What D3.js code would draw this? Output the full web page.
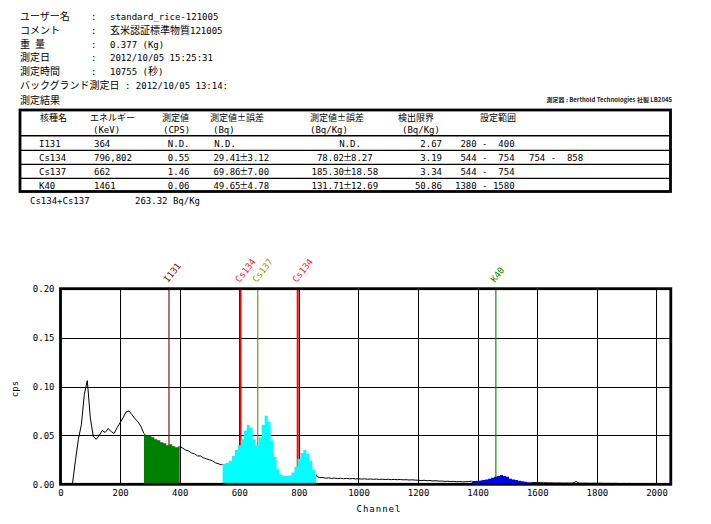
<!DOCTYPE html>
<html><head><meta charset="utf-8">
<script src="https://cdn.jsdelivr.net/npm/d3@7"></script>
<style>body{margin:0;background:#fff}svg{display:block}</style>
</head><body><svg id="c" width="711" height="524"></svg>
<script>
// ---------------- data ----------------
const headerLabels = ["ユーザー名","コメント","重\u2002量","測定日","測定時間"];
const headerValues = ["standard_rice-121005","玄米認証標準物質121005","0.377 (Kg)","2012/10/05 15:25:31","10755 (秒)"];
const backgroundLabel = "バックグランド測定日";
const backgroundDate = "2012/10/05 13:14:";
const resultTitle = "測定結果";
const instrumentNote = "測定器 : Berthold Technologies 社製 LB2045";

const tableHeaders1 = ["核種名","エネルギー","測定値","測定値±誤差","測定値±誤差","検出限界","設定範囲"];
const tableHeaders2 = ["","(KeV)","(CPS)","(Bq)","(Bq/Kg)","(Bq/Kg)",""];
const nuclides = ["I131","Cs134","Cs137","K40"];
const energies = ["364","796,802","662","1461"];
const cpsValues = ["N.D.","0.55","1.46","0.06"];
const bqValues = [null,"29.41","69.86","49.65"];
const bqErrors = [null,"3.12","7.00","4.78"];
const bqkgValues = [null,"78.02","185.30","131.71"];
const bqkgErrors = [null,"8.27","18.58","12.69"];
const detectionLimits = ["2.67","3.19","3.34","50.86"];
const setRanges = [[[280,400]],[[544,754],[754,858]],[[544,754]],[[1380,1580]]];
const sumLabel = "Cs134+Cs137";
const sumValue = "263.32 Bq/Kg";

const yTicks = [0,0.05,0.10,0.15,0.20];
const xTicks = [0,200,400,600,800,1000,1200,1400,1600,1800,2000];
const channelMax = 2048;
const channelStep = 10;
// cps per 10-channel sample, channels 0..2040
const spectrumCps = [
 0,0,0,0,0,0.024,0.046,0.061,0.092,0.106,
 0.068,0.049,0.046,0.050,0.055,0.053,0.057,0.054,0.052,0.058,
 0.063,0.068,0.074,0.075,0.071,0.067,0.064,0.059,0.052,0.050,
 0.050,0.048,0.046,0.045,0.043,0.042,0.040,0.041,0.039,0.038,
 0.039,0.037,0.035,0.034,0.032,0.031,0.029,0.029,0.027,0.026,
 0.025,0.024,0.022,0.021,0.020,0.021,0.022,0.024,0.029,0.035,
 0.040,0.046,0.055,0.061,0.058,0.046,0.040,0.048,0.061,0.070,
 0.064,0.045,0.028,0.016,0.010,0.0088,0.0085,0.0090,0.012,0.018,
 0.026,0.032,0.035,0.031,0.024,0.015,0.008,0.0068,0.0070,0.0062,
 0.0066,0.0060,0.0064,0.0058,0.0062,0.0057,0.0060,0.0056,0.0059,0.0055,
 0.0057,0.0053,0.0056,0.0052,0.0054,0.0051,0.0053,0.0050,0.0052,0.0049,
 0.0051,0.0048,0.0050,0.0047,0.0049,0.0046,0.0047,0.0044,0.0046,0.0043,
 0.0042,0.0038,0.0041,0.0036,0.0039,0.0034,0.0037,0.0032,0.0033,0.0030,
 0.0031,0.0028,0.0030,0.0026,0.0028,0.0025,0.0027,0.0028,0.0032,0.0034,
 0.0036,0.0040,0.0045,0.0050,0.0058,0.0068,0.0076,0.0086,0.0094,0.0086,
 0.0076,0.0058,0.0048,0.0044,0.0036,0.0030,0.0026,0.0022,0.0020,0.0018,
 0.0016,0.0017,0.0015,0.0016,0.0014,0.0015,0.0013,0.0014,0.0013,0.0012,
 0.0013,0.0012,0.0013,0.0028,0.0012,0.0011,0.0012,0.0011,0.0010,0.0011,
 0.0010,0.0011,0.0010,0.0009,0.0010,0.0009,0.0010,0.0009,0.0008,0.0009,
 0.0008,0.0009,0.0008,0.0007,0.0008,0.0007,0.0008,0.0007,0.0006,0.0007,
 0.0006,0.0007,0.0006,0.0005,0.0005
];
const markerNames = ["I131","Cs134","Cs137","Cs134","K40"];
const markerChannels = [364,604,662,796,1461];
const roiStarts = [280,544,1380];
const roiEnds = [400,858,1580];

// ---------------- styles ----------------
const MONO = "'DejaVu Sans Mono', monospace";
const CJK = "'Noto Sans CJK JP', sans-serif";
const roiColors = ["#008000","#00ffff","#0000ff"];
const markerColor = {I131:"#800000", Cs134:"#ff0000", Cs137:"#808000", K40:"#008000"};
const labelColor = {I131:"#900000", Cs134:"#ff1a1a", Cs137:"#9a9a00", K40:"#008a00"};

const svg = d3.select("#c");

function mixed(g, x, y, str, asciiSize, cjkSize, anchor) {
  const t = g.append("text").attr("x", x).attr("y", y).style("white-space","pre")
    .attr("text-anchor", anchor || "start").attr("fill","#000");
  (str.match(/[\x20-\x7e]+|[^\x20-\x7e]+/g) || []).forEach(r => {
    const a = /^[\x20-\x7e]+$/.test(r);
    t.append("tspan").text(r).attr("font-family", a ? MONO : CJK).attr("font-size", a ? asciiSize : cjkSize);
  });
  return t;
}
const pad4 = n => String(n).padStart(4, " ");

// ---------------- header ----------------
const head = svg.append("g");
const hBase = [20, 34, 47.5, 61, 75];
headerLabels.forEach((l,i) => {
  mixed(head, 20, hBase[i], l, 9, 10);
  mixed(head, 91, hBase[i], ":", 9, 10);
  mixed(head, 110, hBase[i], headerValues[i], 9, 10);
});
mixed(head, 20, 89, backgroundLabel + " : " + backgroundDate, 9, 10);
mixed(head, 20, 103.5, resultTitle, 9, 10);
head.append("text").attr("x", 672).attr("y", 102).attr("text-anchor","end")
  .attr("font-family", CJK).attr("font-size", 6).attr("font-weight","bold").attr("fill","#222")
  .text(instrumentNote);

// ---------------- table ----------------
const tb = svg.append("g");
const h1x = [40, 90, 162, 210, 310, 398, 480];
const h2x = [40, 93, 163, 213, 310, 402, 480];
tableHeaders1.forEach((h,i) => mixed(tb, h1x[i], 120.7, h, 9, 9));
tableHeaders2.forEach((h,i) => { if (h) mixed(tb, h2x[i], 132.5, h, 9, 9); });
const rowBase = [146.8, 160.8, 174.8, 188.8];
const rangeX = [455, 523.6];
nuclides.forEach((n,i) => {
  const yb = rowBase[i];
  mixed(tb, 39, yb, n, 9, 9);
  mixed(tb, 94, yb, energies[i], 9, 9);
  mixed(tb, 189.5, yb, cpsValues[i], 9, 9, "end");
  if (bqValues[i] === null) {
    mixed(tb, 225, yb, "N.D.", 9, 9, "middle");
    mixed(tb, 350, yb, "N.D.", 9, 9, "middle");
  } else {
    mixed(tb, 240.5, yb, bqValues[i], 9, 9, "end");
    mixed(tb, 243.7, yb, "±", 9, 9, "middle");
    mixed(tb, 247.5, yb, bqErrors[i], 9, 9);
    mixed(tb, 344, yb, bqkgValues[i], 9, 9, "end");
    mixed(tb, 347.5, yb, "±", 9, 9, "middle");
    mixed(tb, 351, yb, bqkgErrors[i], 9, 9);
  }
  mixed(tb, 442, yb, detectionLimits[i], 9, 9, "end");
  setRanges[i].forEach((r,j) => {
    mixed(tb, rangeX[j], yb, pad4(r[0]) + " - " + pad4(r[1]), 9, 9);
  });
});
tb.append("line").attr("x1",20).attr("x2",670.5).attr("y1",135.8).attr("y2",135.8).attr("stroke","#000").attr("stroke-width",1.6);
[150.3,164.3,178.3].forEach(yy => tb.append("line").attr("x1",20).attr("x2",670.5).attr("y1",yy).attr("y2",yy).attr("stroke","#000").attr("stroke-width",1.2));
tb.append("rect").attr("x",20).attr("y",110).attr("width",650.5).attr("height",81.5)
  .attr("fill","none").attr("stroke","#000").attr("stroke-width",2.8);
mixed(tb, 30, 204, sumLabel, 9, 9);
mixed(tb, 135, 204, sumValue, 9, 9);

// ---------------- chart ----------------
const x = d3.scaleLinear().domain([0, channelMax]).range([60.5, 670.8]);
const y = d3.scaleLinear().domain([0, 0.2]).range([484.3, 288.7]);
const data = spectrumCps.map((v,i) => ({ch: i*channelStep, v}));
const ch = svg.append("g");

// grid
ch.append("g").selectAll("line").data(xTicks.filter(d => d > 0)).join("line")
  .attr("x1", d => Math.round(x(d)) + 0.5).attr("x2", d => Math.round(x(d)) + 0.5)
  .attr("y1", y(0.2)).attr("y2", y(0)).attr("stroke","#000").attr("stroke-width",1);
ch.append("g").selectAll("line").data(yTicks.filter(d => d > 0 && d < 0.2)).join("line")
  .attr("x1", x(0)).attr("x2", x(channelMax))
  .attr("y1", d => Math.round(y(d)) + 0.5).attr("y2", d => Math.round(y(d)) + 0.5)
  .attr("stroke","#000").attr("stroke-width",1);

// marker lines
markerNames.forEach((n,i) => {
  const xx = x(markerChannels[i]);
  ch.append("line").attr("x1", xx).attr("x2", xx).attr("y1", y(0.2)).attr("y2", y(0))
    .attr("stroke", markerColor[n]).attr("stroke-width", n === "Cs134" ? 2 : 1.1);
  ch.append("text").attr("transform", `translate(${xx - 1},${283}) rotate(-52)`)
    .attr("font-family", MONO).attr("font-size", 9).attr("fill", labelColor[n]).text(n);
});

// spectrum line (outside ROIs)
const defs = svg.append("defs");
const outside = defs.append("clipPath").attr("id","outside");
const edges = [0].concat(roiStarts.flatMap((s,i) => [s, roiEnds[i]])).concat([channelMax]);
for (let k = 0; k < edges.length; k += 2) {
  outside.append("rect").attr("x", x(edges[k])).attr("width", x(edges[k+1]) - x(edges[k]))
    .attr("y", 0).attr("height", 524);
}
ch.append("path").datum(data).attr("clip-path","url(#outside)")
  .attr("fill","none").attr("stroke","#000").attr("stroke-width",1)
  .attr("d", d3.line().x(d => x(d.ch)).y(d => y(d.v)));

// ROI fills
roiStarts.forEach((s,i) => {
  const id = "roi" + i;
  defs.append("clipPath").attr("id", id).append("rect")
    .attr("x", x(s)).attr("width", x(roiEnds[i]) - x(s)).attr("y", 0).attr("height", 524);
  ch.append("path").datum(data).attr("clip-path", `url(#${id})`)
    .attr("fill", roiColors[i]).attr("stroke","none")
    .attr("d", d3.area().curve(d3.curveStep).x(d => x(d.ch)).y0(y(0)).y1(d => y(d.v)));
});

// border
ch.append("rect").attr("x", x(0)).attr("y", y(0.2)).attr("width", x(channelMax) - x(0)).attr("height", y(0) - y(0.2))
  .attr("fill","none").attr("stroke","#000").attr("stroke-width",2.8);

// axes
const ya = ch.append("g").attr("transform", `translate(${x(0)},0)`)
  .call(d3.axisLeft(y).tickValues(yTicks).tickFormat(d3.format(".2f")).tickSize(0).tickPadding(6));
const xa = ch.append("g").attr("transform", `translate(0,${y(0)})`)
  .call(d3.axisBottom(x).tickValues(xTicks).tickFormat(d3.format("d")).tickSize(0).tickPadding(5.5));
[ya, xa].forEach(a => {
  a.select(".domain").remove();
  a.attr("font-family", MONO).attr("font-size", 9);
  a.selectAll("text").attr("fill","#000");
});
ch.append("text").attr("transform","translate(18,389) rotate(-90)").attr("text-anchor","middle")
  .attr("font-family", MONO).attr("font-size", 9).text("cps");
ch.append("text").attr("x", 379).attr("y", 512).attr("text-anchor","middle")
  .attr("font-family", MONO).attr("font-size", 9).attr("letter-spacing", 1).text("Channel");
</script></body></html>
